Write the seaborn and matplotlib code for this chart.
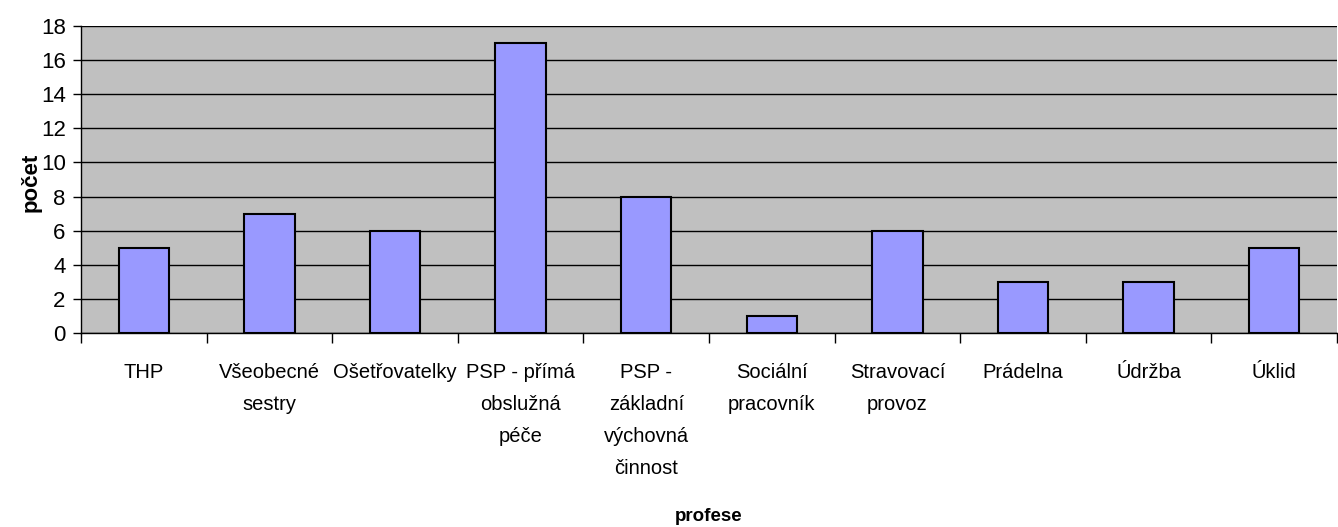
import matplotlib
matplotlib.use("Agg")
import matplotlib.pyplot as plt
import seaborn as sns
import numpy as np
import pandas as pd

categories = ["THP", "Všeobecné\nsestry", "Ošetřovatelky", "PSP - přímá\nobslužná\npéče",
              "PSP -\nzákladní\nvýchovná\nčinnost", "Sociální\npracovník", "Stravovací\nprovoz",
              "Prádelna", "Údržba", "Úklid"]
values = [5, 7, 6, 17, 8, 1, 6, 3, 3, 5]
y_ticks = [0, 2, 4, 6, 8, 10, 12, 14, 16, 18]

sns.set_theme(style="white")
plt.rcParams['font.family'] = ['Liberation Sans', 'DejaVu Sans']
plt.rcParams['text.color'] = 'black'
plt.rcParams['axes.labelcolor'] = 'black'
plt.rcParams['xtick.color'] = 'black'
plt.rcParams['ytick.color'] = 'black'

df = pd.DataFrame({"profese": categories, "počet": values})

fig = plt.figure(figsize=(13.38, 5.27), dpi=100)
ax = fig.add_axes([81/1338, 1 - 333/527, 1256/1338, 307/527])
ax.set_facecolor("#C0C0C0")

sns.barplot(data=df, x="profese", y="počet", color="#9999FF", saturation=1,
            edgecolor="black", linewidth=1.5, width=0.4, ax=ax, zorder=3)

ax.set_ylim(0, 18)
ax.set_xlim(-0.5, len(categories) - 0.5)
ax.set_yticks(y_ticks)
ax.yaxis.grid(True, color="black", linewidth=1, zorder=0)
ax.set_axisbelow(True)
for s in ["top", "right"]:
    ax.spines[s].set_visible(False)
for s in ["left", "bottom"]:
    ax.spines[s].set_color("black")
    ax.spines[s].set_linewidth(1)
    ax.spines[s].set_zorder(4)

ax.tick_params(axis="y", which="major", length=6, width=1, color="black",
               labelsize=16, pad=5, left=True, labelcolor="black")
ax.tick_params(axis="x", which="major", length=0, labelsize=14.5, pad=21.5, labelcolor="black")
ax.set_xticks(np.arange(-0.5, len(categories), 1), minor=True)
ax.tick_params(axis="x", which="minor", length=7, width=1, color="black", bottom=True)
for lbl in ax.get_xticklabels():
    lbl.set_linespacing(1.88)

ax.set_xlabel("profese", fontsize=13.5, fontweight="bold", color="black")
ax.set_ylabel("počet", fontsize=16, fontweight="bold", color="black")
ax.xaxis.set_label_coords(0.5, -0.57)
ax.yaxis.set_label_coords(-0.031, 0.49)

fig.savefig("out.png", dpi=100)
